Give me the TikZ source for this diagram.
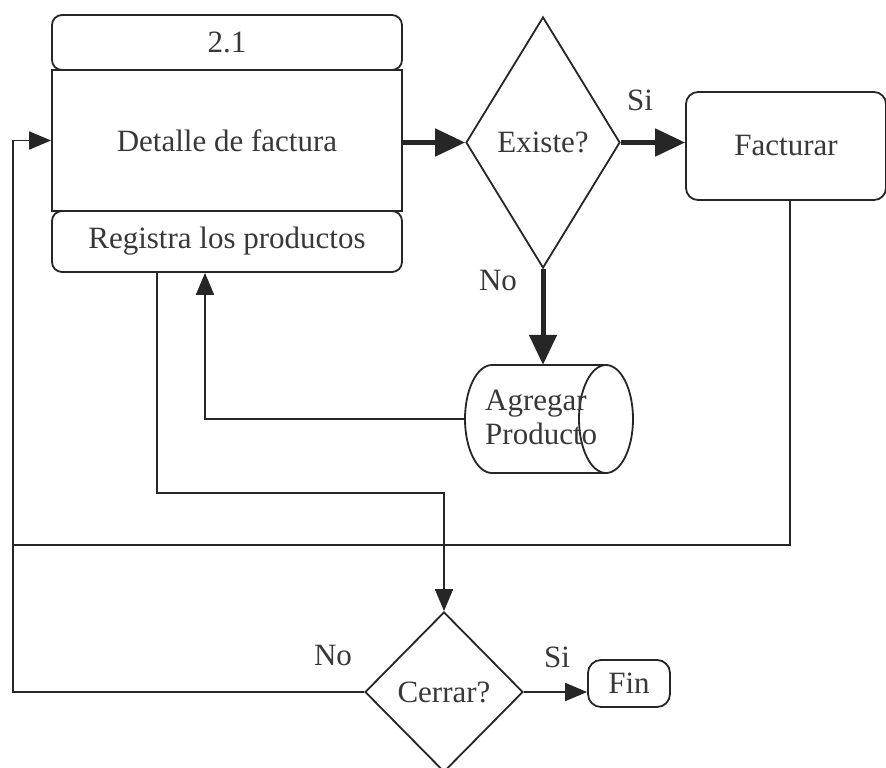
\documentclass[tikz,border=0pt]{standalone}
\usepackage{fontspec}
\setmainfont{Liberation Serif}
\usetikzlibrary{arrows.meta,shapes.geometric}
\definecolor{ink}{HTML}{262626}
\definecolor{txt}{HTML}{383838}
\begin{document}
\begin{tikzpicture}[x=1pt,y=-1pt,
  every node/.style={font=\fontsize{31}{34}\selectfont, text=txt},
  box/.style={draw=ink, line width=1.8pt, minimum width=350pt, inner sep=0pt},
  rbox/.style={box, rounded corners=10pt},
  decision/.style={diamond, draw=ink, line width=1.8pt, inner sep=0pt},
  link/.style={draw=ink, line width=1.8pt},
  flow/.style={link, -{Triangle[length=22pt,width=18pt]}},
  mainflow/.style={draw=ink, line width=5pt, -{Triangle[length=30pt,width=27pt]}},
  tag/.style={inner sep=0pt}
]
% page frame
\fill[white] (0,0) rectangle (886,768);
\useasboundingbox (0,0) rectangle (886,768);

% process block 2.1
\node[box, minimum height=141pt] (det) at (227,140.5) {Detalle de factura};
\node[rbox, minimum height=55pt] (num) at (227,42.5) {2.1};
\node[rbox, minimum height=61pt] (reg) at (227,241.5) {Registra los productos};

% decision and invoice
\node[decision, minimum width=154pt, minimum height=251pt] (ex) at (543,142.5) {Existe?};
\node[rbox, minimum width=200pt, minimum height=108pt, rounded corners=12pt] (fac) at (786,146) {Facturar};

% storage cylinder for new products
\node[inner sep=0pt, minimum width=168pt, minimum height=108pt] (agr) at (549,419) {};
\draw[link] (606,365) -- (492,365)
  .. controls (477.1,365) and (465,389.2) .. (465,419)
  .. controls (465,448.8) and (477.1,473) .. (492,473) -- (606,473);
\draw[link] (606,419) ellipse [x radius=27, y radius=54];
\node[tag, anchor=west, align=left] (agrtext) at (485,417) {Agregar\\Producto};

% closing decision
\node[decision, minimum width=158pt, minimum height=160pt] (cer) at (444,692) {Cerrar?};
\node[rbox, minimum width=82pt, minimum height=47pt, rounded corners=13pt] (fin) at (629,683.5) {Fin};

% branch labels
\node[tag] (si1) at (640,100) {Si};
\node[tag] (no1) at (498,280) {No};
\node[tag] (si2) at (557,657) {Si};
\node[tag] (no2) at (333,655) {No};

% return loop junction
\coordinate (lj) at (13,545);

% connectors
\draw[mainflow] (ex.west -| det.east) -- (ex.west);
\draw[mainflow] (ex.east) -- (ex.east -| fac.west);
\draw[mainflow] (ex.south) -- (ex.south |- agr.north);
\draw[flow] (agr.west) -| ([xshift=-22pt]reg.south);
\draw[flow] ([xshift=-70pt]reg.south) -- ++(0,220) -| (cer.north);
\draw[link] ([xshift=4pt]fac.south) |- (lj);
\draw[flow] (cer.west) -| (lj) |- (det.west);
\draw[flow] (cer.east) -- (cer.east -| fin.west);
\end{tikzpicture}
\end{document}
